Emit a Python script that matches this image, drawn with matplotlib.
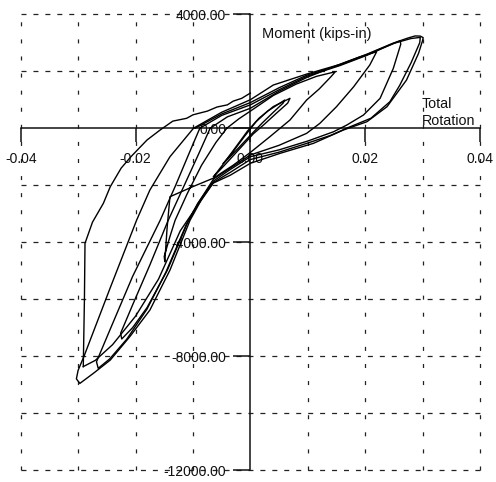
import matplotlib
matplotlib.use('Agg')
import matplotlib.pyplot as plt

plt.rcParams['font.family'] = ['Liberation Sans', 'DejaVu Sans']
plt.rcParams['axes.unicode_minus'] = False
plt.rcParams['lines.scale_dashes'] = False

# ---------------- data (rotation, moment in kips-in) ----------------
x_ticks = [-0.04, -0.02, 0.0, 0.02, 0.04]
x_tick_labels = ['-0.04', '-0.02', '0.00', '0.02', '0.04']
y_ticks = [4000, 0, -4000, -8000, -12000]
y_tick_labels = ['4000.00', '0.00', '-4000.00', '-8000.00', '-12000.00']
grid_x = [-0.04, -0.03, -0.02, -0.01, 0.01, 0.02, 0.03, 0.04]
grid_y = [4000, 2000, -2000, -4000, -6000, -8000, -10000, -12000]

A_rot = [-0.0047, -0.0030, -0.0010, 0.0010, 0.0030, 0.0050, 0.0060, 0.0057, 0.0040, 0.0020, 0.0000,
         -0.0020, -0.0040, -0.0047]
A_mom = [-1232, -820, -280, 230, 600, 860, 990, 880, 560, 170, -250, -680, -1100, -1232]

B_rot = [-0.0064, -0.0045, -0.0025, -0.0005, 0.0015, 0.0040, 0.0060, 0.0069, 0.0065, 0.0045, 0.0025,
         0.0005, -0.0020, -0.0045, -0.0064]
B_mom = [-1700, -1200, -650, -100, 350, 760, 960, 1050, 880, 520, 150, -200, -750, -1300, -1700]

C_rot = [-0.0041, -0.0020, 0.0000, 0.0040, 0.0080, 0.0115, 0.0148, 0.0140, 0.0120, 0.0098, 0.0069,
         0.0034, 0.0000, -0.0030, -0.0064, -0.0100, -0.0140, -0.0145, -0.0149, -0.0150, -0.0140,
         -0.0131, -0.0110, -0.0085, -0.0060, -0.0041]
C_mom = [0, 330, 600, 1150, 1550, 1820, 1983, 1800, 1380, 990, 288, -298, -850, -1300, -1750, -2050,
         -2405, -3500, -4690, -4500, -3800, -3230, -2300, -1300, -500, 0]

D_rot = [-0.0070, -0.0040, 0.0000, 0.0050, 0.0098, 0.0150, 0.0190, 0.0220, 0.0208, 0.0180, 0.0150,
         0.0121, 0.0098, 0.0050, 0.0000, -0.0035, -0.0064, -0.0090, -0.0110, -0.0145, -0.0180,
         -0.0205, -0.0224, -0.0226, -0.0205, -0.0175, -0.0143, -0.0115, -0.0090, -0.0070]
D_mom = [0, 400, 700, 1300, 1780, 2200, 2500, 2686, 2219, 1457, 755, 170, -180, -600, -940, -1400,
         -1780, -2600, -3350, -5000, -6300, -7000, -7400, -7200, -6200, -4800, -3230, -2000, -900, 0]

E_rot = [-0.0088, -0.0050, 0.0000, 0.0050, 0.0098, 0.0156, 0.0203, 0.0235, 0.0261, 0.0262, 0.0249,
         0.0226, 0.0197, 0.0168, 0.0145, 0.0100, 0.0050, 0.0000, -0.0035, -0.0064, -0.0092, -0.0112,
         -0.0147, -0.0180, -0.0215, -0.0245, -0.0265, -0.0268, -0.0245, -0.0205, -0.0157, -0.0130,
         -0.0105, -0.0088]
E_mom = [0, 450, 820, 1350, 1820, 2200, 2560, 2850, 3072, 2950, 2100, 1050, 463, 112, -123, -450,
         -760, -1000, -1450, -1850, -2650, -3400, -5050, -6350, -7400, -8100, -8430, -8200, -7100,
         -5200, -3230, -2000, -800, 0]

F_rot = [-0.0096, -0.0050, 0.0000, 0.0050, 0.0098, 0.0156, 0.0203, 0.0249, 0.0280, 0.0296, 0.0295,
         0.0280, 0.0260, 0.0243, 0.0210, 0.0170, 0.0140, 0.0100, 0.0050, 0.0000, -0.0035, -0.0064,
         -0.0095, -0.0122, -0.0160, -0.0200, -0.0240, -0.0270, -0.0291]
F_mom = [0, 500, 900, 1420, 1860, 2220, 2580, 2975, 3150, 3190, 3000, 2300, 1500, 930, 350, 20, -250,
         -520, -840, -1100, -1550, -1900, -2800, -3600, -5300, -6600, -7600, -8150, -8370]

FR_rot = [-0.0291, -0.0289, -0.0288, -0.0275, -0.0256, -0.0244, -0.0225, -0.0208, -0.0180, -0.0157,
          -0.0135, -0.0111, -0.0100, -0.0090, -0.0075, -0.0058, -0.0040, -0.0030, -0.0015, 0.0000]
FR_mom = [-8370, -6000, -4040, -3300, -2636, -2053, -1400, -1000, -414, -60, 250, 348, 470, 523, 600,
          745, 820, 950, 1050, 1235]

G_rot = [-0.0099, -0.0050, 0.0000, 0.0040, 0.0098, 0.0156, 0.0203, 0.0249, 0.0275, 0.0287, 0.0296,
         0.0301, 0.0300, 0.0293, 0.0272, 0.0238, 0.0203, 0.0162, 0.0110, 0.0052, 0.0000, -0.0035,
         -0.0065, -0.0085, -0.0105, -0.0140, -0.0175, -0.0210, -0.0244, -0.0273, -0.0297, -0.0303,
         -0.0300, -0.0290, -0.0244, -0.0198, -0.0175, -0.0140, -0.0099]
G_mom = [0, 560, 1000, 1517, 1900, 2240, 2600, 2990, 3170, 3240, 3235, 3180, 3080, 2630, 1692, 755,
         228, -63, -530, -880, -1232, -1650, -1930, -2500, -3230, -4980, -6385, -7320, -8140, -8600,
         -8960, -8800, -8500, -8020, -5600, -3223, -2170, -1000, 0]

loops = [(A_rot, A_mom), (B_rot, B_mom), (C_rot, C_mom), (D_rot, D_mom), (E_rot, E_mom),
         (F_rot, F_mom), (FR_rot, FR_mom), (G_rot, G_mom)]

# ---------------- figure ----------------
W, H = 496, 482
fig = plt.figure(figsize=(W / 100, H / 100), dpi=100)
ax = fig.add_axes([20.7 / W, 12 / H, (480 - 20.7) / W, (470 - 14.3) / H])
ax.set_xlim(-0.04, 0.04)
ax.set_ylim(-12000, 4000)
ax.patch.set_visible(False)

for s in ['top', 'right']:
    ax.spines[s].set_visible(False)
ax.spines['left'].set_position(('data', 0))
ax.spines['bottom'].set_position(('data', 0))
for s in ['left', 'bottom']:
    ax.spines[s].set_linewidth(1.1)
    ax.spines[s].set_color('#111111')

ax.set_xticks(x_ticks)
ax.set_xticklabels(x_tick_labels)
ax.set_yticks(y_ticks)
ax.set_yticklabels(y_tick_labels)
ax.tick_params(axis='x', direction='out', length=10, width=1.1, pad=7, labelsize=10, colors='#111111')
ax.tick_params(axis='y', direction='out', length=12, width=1.1, pad=5.5, labelsize=10, colors='#111111')

for gx in grid_x:
    ax.axvline(gx, color='#222222', lw=0.9, linestyle=(0, (2.9, 9.4)), clip_on=False, zorder=1)
for gy in grid_y:
    ax.axhline(gy, color='#222222', lw=0.9, linestyle=(0, (3.6, 5.0)), clip_on=False, zorder=1)

for rot, mom in loops:
    ax.plot(rot, mom, color='black', lw=1.0, zorder=3, clip_on=False, solid_joinstyle='round')

fig.text(262 / W, 1 - 38 / H, 'Moment (kips-in)', fontsize=10.5, ha='left', va='baseline', color='#111111')
fig.text(422 / W, 1 - 107.5 / H, 'Total', fontsize=10.3, ha='left', va='baseline', color='#111111')
fig.text(422 / W, 1 - 125 / H, 'Rotation', fontsize=10.3, ha='left', va='baseline', color='#111111')

fig.savefig('out.png', dpi=100)
